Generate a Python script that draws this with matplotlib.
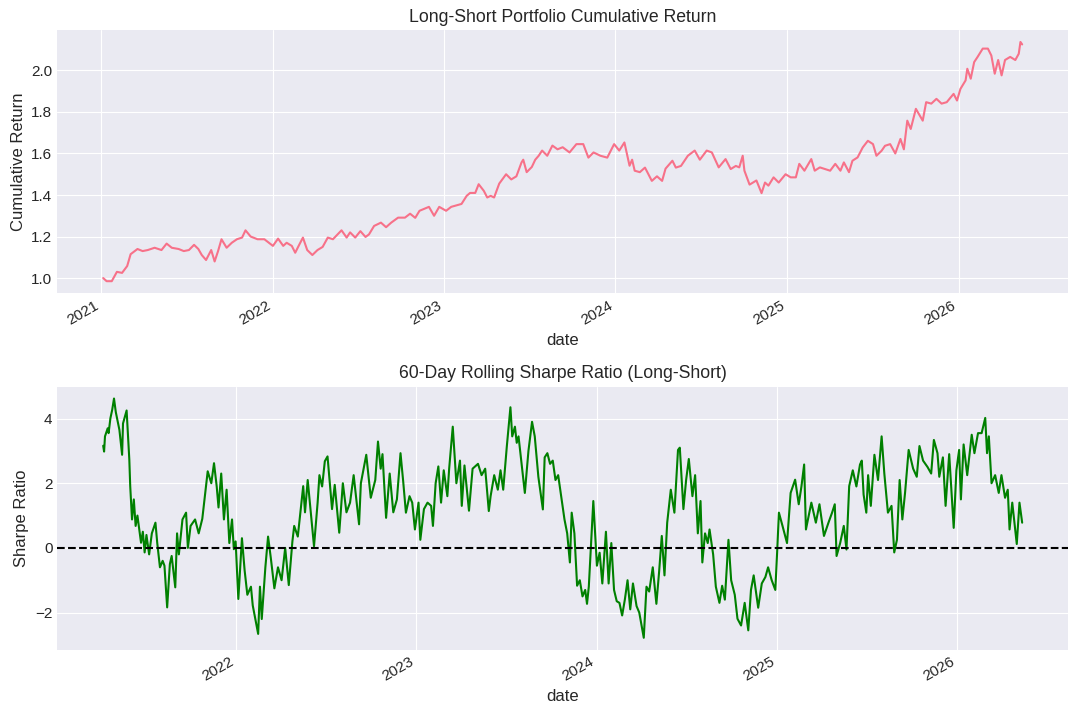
import numpy as np
import pandas as pd
import matplotlib
matplotlib.use("Agg")
import matplotlib.pyplot as plt
import matplotlib.dates as mdates

plt.style.use("seaborn-v0_8-darkgrid")
plt.rcParams["font.family"] = ["Liberation Sans", "DejaVu Sans"]

# Cumulative return of the long-short portfolio (time in decimal years)
cum_t = [2021.01, 2021.03, 2021.06, 2021.09, 2021.12, 2021.15, 2021.17, 2021.21, 2021.24,
         2021.27, 2021.31, 2021.35, 2021.38, 2021.41, 2021.45, 2021.48, 2021.51, 2021.54,
         2021.565, 2021.585, 2021.61, 2021.64, 2021.66, 2021.68, 2021.70, 2021.73, 2021.76,
         2021.79, 2021.82, 2021.84, 2021.87, 2021.91, 2021.95, 2022.00, 2022.03, 2022.06,
         2022.08, 2022.11, 2022.13, 2022.15, 2022.175, 2022.20, 2022.23, 2022.26, 2022.29,
         2022.32, 2022.35, 2022.40, 2022.43, 2022.45, 2022.48, 2022.51, 2022.54, 2022.56,
         2022.59, 2022.63, 2022.66, 2022.69, 2022.73, 2022.77, 2022.80, 2022.83, 2022.855,
         2022.91, 2022.94, 2022.97, 2023.01, 2023.04, 2023.10, 2023.13, 2023.15, 2023.18,
         2023.20, 2023.23, 2023.25, 2023.27, 2023.29, 2023.32, 2023.36, 2023.39, 2023.42,
         2023.45, 2023.46, 2023.48, 2023.51, 2023.53, 2023.55, 2023.57, 2023.60, 2023.63,
         2023.66, 2023.69, 2023.73, 2023.77, 2023.81, 2023.84, 2023.87, 2023.91, 2023.95,
         2023.99, 2024.02, 2024.05, 2024.08, 2024.095, 2024.11, 2024.14, 2024.17, 2024.21,
         2024.24, 2024.27, 2024.29, 2024.33, 2024.35, 2024.38, 2024.42, 2024.46, 2024.49,
         2024.53, 2024.56, 2024.60, 2024.64, 2024.67, 2024.70, 2024.72, 2024.74, 2024.75,
         2024.78, 2024.80, 2024.82, 2024.85, 2024.87, 2024.89, 2024.92, 2024.95, 2024.99,
         2025.02, 2025.05, 2025.07, 2025.10, 2025.14, 2025.16, 2025.19, 2025.25, 2025.28,
         2025.31, 2025.33, 2025.36, 2025.38, 2025.41, 2025.44, 2025.47, 2025.50, 2025.52,
         2025.55, 2025.57, 2025.60, 2025.63, 2025.66, 2025.68, 2025.70, 2025.72, 2025.75,
         2025.79, 2025.81, 2025.84, 2025.87, 2025.90, 2025.93, 2025.97, 2025.99, 2026.01,
         2026.04, 2026.05, 2026.07, 2026.09, 2026.11, 2026.14, 2026.17, 2026.19, 2026.21,
         2026.23, 2026.25, 2026.27, 2026.30, 2026.33, 2026.35, 2026.36, 2026.37]
cum_ret = [1.00, 0.985, 0.985, 1.03, 1.025, 1.058, 1.115, 1.14, 1.13,
           1.135, 1.146, 1.135, 1.166, 1.146, 1.14, 1.13, 1.135, 1.16,
           1.14, 1.111, 1.087, 1.135, 1.08, 1.13, 1.187, 1.146, 1.17,
           1.187, 1.195, 1.23, 1.20, 1.187, 1.187, 1.155, 1.19, 1.155,
           1.17, 1.155, 1.122, 1.155, 1.195, 1.135, 1.111, 1.135, 1.15,
           1.195, 1.187, 1.23, 1.195, 1.22, 1.195, 1.226, 1.198, 1.21,
           1.251, 1.267, 1.245, 1.267, 1.291, 1.291, 1.31, 1.29, 1.324,
           1.343, 1.30, 1.343, 1.324, 1.343, 1.357, 1.396, 1.41, 1.41,
           1.452, 1.42, 1.388, 1.396, 1.388, 1.455, 1.50, 1.475, 1.49,
           1.557, 1.57, 1.51, 1.535, 1.57, 1.589, 1.614, 1.589, 1.638,
           1.62, 1.63, 1.605, 1.645, 1.645, 1.58, 1.605, 1.589, 1.58,
           1.645, 1.614, 1.653, 1.541, 1.57, 1.517, 1.51, 1.532, 1.468,
           1.49, 1.468, 1.527, 1.565, 1.532, 1.54, 1.589, 1.614, 1.57,
           1.614, 1.605, 1.533, 1.573, 1.525, 1.54, 1.533, 1.589, 1.517,
           1.45, 1.46, 1.47, 1.409, 1.46, 1.445, 1.485, 1.46, 1.50,
           1.485, 1.485, 1.55, 1.517, 1.573, 1.517, 1.533, 1.517, 1.55,
           1.517, 1.557, 1.51, 1.565, 1.581, 1.629, 1.661, 1.645, 1.589,
           1.613, 1.637, 1.645, 1.60, 1.67, 1.62, 1.758, 1.718, 1.815,
           1.758, 1.847, 1.84, 1.863, 1.84, 1.847, 1.887, 1.855, 1.911,
           1.952, 2.008, 1.96, 2.04, 2.065, 2.105, 2.105, 2.072, 1.984,
           2.05, 1.976, 2.05, 2.065, 2.05, 2.08, 2.137, 2.125]

# 60-day rolling Sharpe ratio (time in decimal years)
sharpe_t = [2021.26, 2021.265, 2021.27, 2021.285, 2021.29, 2021.30, 2021.31, 2021.32, 2021.33,
            2021.35, 2021.365, 2021.37, 2021.39, 2021.395, 2021.40, 2021.405, 2021.41, 2021.42,
            2021.43, 2021.44, 2021.45, 2021.47, 2021.48, 2021.49, 2021.50, 2021.515, 2021.53,
            2021.55, 2021.56, 2021.575, 2021.59, 2021.60, 2021.615, 2021.63, 2021.64, 2021.66,
            2021.67, 2021.68, 2021.70, 2021.72, 2021.73, 2021.745, 2021.77, 2021.79, 2021.81,
            2021.84, 2021.86, 2021.875, 2021.89, 2021.90, 2021.915, 2021.93, 2021.945, 2021.96,
            2021.975, 2021.985, 2021.995, 2022.01, 2022.03, 2022.045, 2022.06, 2022.08, 2022.09,
            2022.12, 2022.13, 2022.14, 2022.16, 2022.175, 2022.19, 2022.21, 2022.23, 2022.25,
            2022.27, 2022.29, 2022.31, 2022.32, 2022.34, 2022.37, 2022.38, 2022.395, 2022.43,
            2022.45, 2022.46, 2022.475, 2022.49, 2022.505, 2022.53, 2022.545, 2022.57, 2022.59,
            2022.61, 2022.63, 2022.65, 2022.68, 2022.69, 2022.72, 2022.745, 2022.77, 2022.785,
            2022.80, 2022.81, 2022.83, 2022.85, 2022.87, 2022.89, 2022.91, 2022.925, 2022.94,
            2022.96, 2022.975, 2022.99, 2023.01, 2023.02, 2023.04, 2023.06, 2023.08, 2023.09,
            2023.105, 2023.12, 2023.135, 2023.15, 2023.17, 2023.18, 2023.20, 2023.22, 2023.24,
            2023.25, 2023.265, 2023.29, 2023.31, 2023.34, 2023.36, 2023.38, 2023.40,
            2023.41, 2023.43, 2023.45, 2023.465, 2023.48, 2023.50, 2023.52, 2023.53, 2023.545, 2023.555,
            2023.565, 2023.58, 2023.60, 2023.62, 2023.64, 2023.655, 2023.675, 2023.70, 2023.71, 2023.725,
            2023.74, 2023.755, 2023.77, 2023.785, 2023.82, 2023.835, 2023.85, 2023.86, 2023.875, 2023.89,
            2023.905, 2023.92, 2023.935, 2023.945, 2023.955, 2023.97, 2023.98, 2024.00, 2024.015, 2024.03,
            2024.05, 2024.065, 2024.08, 2024.095, 2024.11, 2024.125, 2024.14, 2024.155, 2024.17, 2024.185,
            2024.20, 2024.22, 2024.235, 2024.26, 2024.275, 2024.29, 2024.31, 2024.33, 2024.345, 2024.36,
            2024.375, 2024.39, 2024.41, 2024.43, 2024.45, 2024.46, 2024.48, 2024.495, 2024.51, 2024.53,
            2024.545, 2024.56, 2024.575, 2024.585, 2024.60, 2024.615, 2024.625, 2024.645, 2024.66, 2024.68,
            2024.695, 2024.71, 2024.73, 2024.745, 2024.765, 2024.78, 2024.80, 2024.82, 2024.84, 2024.855,
            2024.87, 2024.895, 2024.915, 2024.935, 2024.95, 2024.97, 2024.99, 2025.00, 2025.01, 2025.03,
            2025.055, 2025.075, 2025.10, 2025.12, 2025.135, 2025.15, 2025.16, 2025.19, 2025.215, 2025.235,
            2025.26, 2025.285, 2025.305, 2025.32, 2025.33, 2025.35, 2025.37, 2025.385, 2025.40, 2025.42,
            2025.44, 2025.46, 2025.47, 2025.48, 2025.495, 2025.505, 2025.52, 2025.54, 2025.56, 2025.58,
            2025.595, 2025.615, 2025.635, 2025.65, 2025.665, 2025.68, 2025.695, 2025.71, 2025.73, 2025.755,
            2025.775, 2025.79, 2025.81, 2025.835, 2025.855, 2025.87, 2025.89, 2025.90, 2025.92, 2025.935,
            2025.955, 2025.98, 2025.995, 2026.01, 2026.02, 2026.035, 2026.055, 2026.08, 2026.095, 2026.115,
            2026.135, 2026.155, 2026.165, 2026.175, 2026.19, 2026.21, 2026.23, 2026.245, 2026.265, 2026.28,
            2026.29, 2026.305, 2026.33, 2026.345, 2026.36]
sharpe = [3.16, 2.98, 3.45, 3.70, 3.55, 4.01, 4.27, 4.62, 4.2,
          3.65, 2.88, 3.85, 4.25, 3.75, 3.19, 2.73, 1.91, 0.88,
          1.5, 0.68, 1.0, 0.16, 0.5, -0.14, 0.4, -0.2, 0.45,
          0.78, 0.15, -0.6, -0.4, -0.55, -1.84, -0.5, -0.25, -1.22,
          0.45, -0.2, 0.88, 1.09, 0.0, 0.68, 0.88, 0.45, 0.9,
          2.37, 2.0, 2.62, 1.9, 1.25, 2.3, 0.88, 1.8, 0.15,
          0.88, -0.04, 0.2, -1.58, 0.3, -0.7, -1.45, -1.2, -1.78,
          -2.66, -1.2, -2.2, -0.6, 0.35, -0.3, -1.25, -0.6, -1.0,
          0.0, -1.15, 0.2, 0.68, 0.35, 1.91, 1.1, 2.1, 0.05,
          1.4, 2.25, 1.9, 2.68, 2.83, 1.2, 1.95, 0.47, 2.0,
          1.1, 1.4, 2.25, 0.73, 2.0, 2.88, 1.55, 2.1, 3.29,
          2.45, 2.9, 0.93, 2.3, 1.1, 1.5, 2.93, 2.05, 1.09,
          1.6, 1.4, 0.57, 1.4, 0.25, 1.2, 1.4, 1.3, 0.68,
          2.0, 2.52, 1.4, 2.4, 1.6, 2.45, 3.75, 2.0, 2.7,
          1.3, 2.55, 1.15, 2.45, 2.6, 2.25, 2.45, 1.14, 1.6,
          2.25, 1.8, 2.4, 1.8, 3.14, 4.35, 3.45, 3.75, 3.25,
          3.45, 2.7, 1.7, 3.0, 3.9, 3.45, 2.2, 1.19, 2.8,
          2.93, 2.6, 2.7, 2.1, 2.25, 0.88, 0.45, -0.45, 1.09,
          0.45, -1.17, -1.0, -1.5, -1.3, -1.73, -1.2, 0.37, 1.45,
          -0.55, -0.15, -1.1, 0.5, -1.1, 0.15, -1.3, -1.65, -1.7,
          -2.09, -1.6, -1.0, -1.9, -1.1, -1.8, -2.0, -2.78, -1.2,
          -1.35, -0.6, -1.73, -0.75, 0.37, -0.85, 0.78, 1.8, 1.09,
          3.03, 3.1, 1.2, 2.1, 2.75, 1.6, 2.25, 0.45, 1.45,
          -0.45, 0.45, 0.15, 0.57, -0.2, -1.2, -1.7, -1.17, -1.6,
          0.25, -1.0, -1.45, -2.19, -2.4, -1.7, -2.55, -1.3, -0.85,
          -1.85, -1.1, -0.9, -0.6, -1.0, -1.3, -0.15, 1.09, 0.68,
          0.15, 1.7, 2.11, 1.35, 1.9, 2.58, 0.57, 1.4, 0.78,
          1.35, 0.37, 0.78, 1.09, 1.35, -0.25, 0.15, 0.68, -0.05,
          1.91, 2.4, 1.9, 2.58, 2.7, 1.65, 1.09, 2.25, 1.3,
          2.88, 2.1, 3.45, 2.3, 1.09, 1.3, -0.14, 0.25, 2.1,
          0.88, 1.7, 3.03, 2.45, 2.2, 3.15, 2.7, 2.5, 2.3,
          3.34, 2.93, 2.2, 2.8, 1.3, 2.9, 0.62, 2.4, 3.03,
          1.5, 3.2, 2.25, 3.5, 2.93, 3.55, 3.55, 4.02, 2.93,
          3.45, 2.0, 2.25, 1.7, 2.25, 1.55, 1.8, 0.57, 1.4,
          0.12, 1.4, 0.78]


def to_dates(t):
    t = np.asarray(t)
    return pd.Timestamp("2021-01-01") + pd.to_timedelta((t - 2021) * 365.25, unit="D")


cum_dates = to_dates(cum_t)
sharpe_dates = to_dates(sharpe_t)

fig, (ax1, ax2) = plt.subplots(2, 1, figsize=(10.8, 7.14), dpi=100)
fig.subplots_adjust(left=0.053, right=0.989, top=0.958, bottom=0.09, hspace=0.355)

# Top: cumulative return
ax1.plot(cum_dates, cum_ret, color="#f77189", linewidth=1.5)
ax1.set_title("Long-Short Portfolio Cumulative Return", fontsize=12.7)
ax1.set_xlabel("date", fontsize=12)
ax1.set_ylabel("Cumulative Return", fontsize=12)

# Bottom: rolling Sharpe
ax2.plot(sharpe_dates, sharpe, color="green", linewidth=1.5)
ax2.axhline(0, color="black", linestyle="--", linewidth=1.5)
ax2.set_title("60-Day Rolling Sharpe Ratio (Long-Short)", fontsize=12.7)
ax2.set_xlabel("date", fontsize=12)
ax2.set_ylabel("Sharpe Ratio", fontsize=12)
ax2.set_yticks([-2, 0, 2, 4])

for ax in (ax1, ax2):
    ax.xaxis.set_major_locator(mdates.YearLocator())
    ax.xaxis.set_major_formatter(mdates.DateFormatter("%Y"))
    ax.tick_params(axis="both", labelsize=11)
    for lbl in ax.get_xticklabels():
        lbl.set_rotation(30)
        lbl.set_ha("right")

plt.savefig("out.png", dpi=100)
